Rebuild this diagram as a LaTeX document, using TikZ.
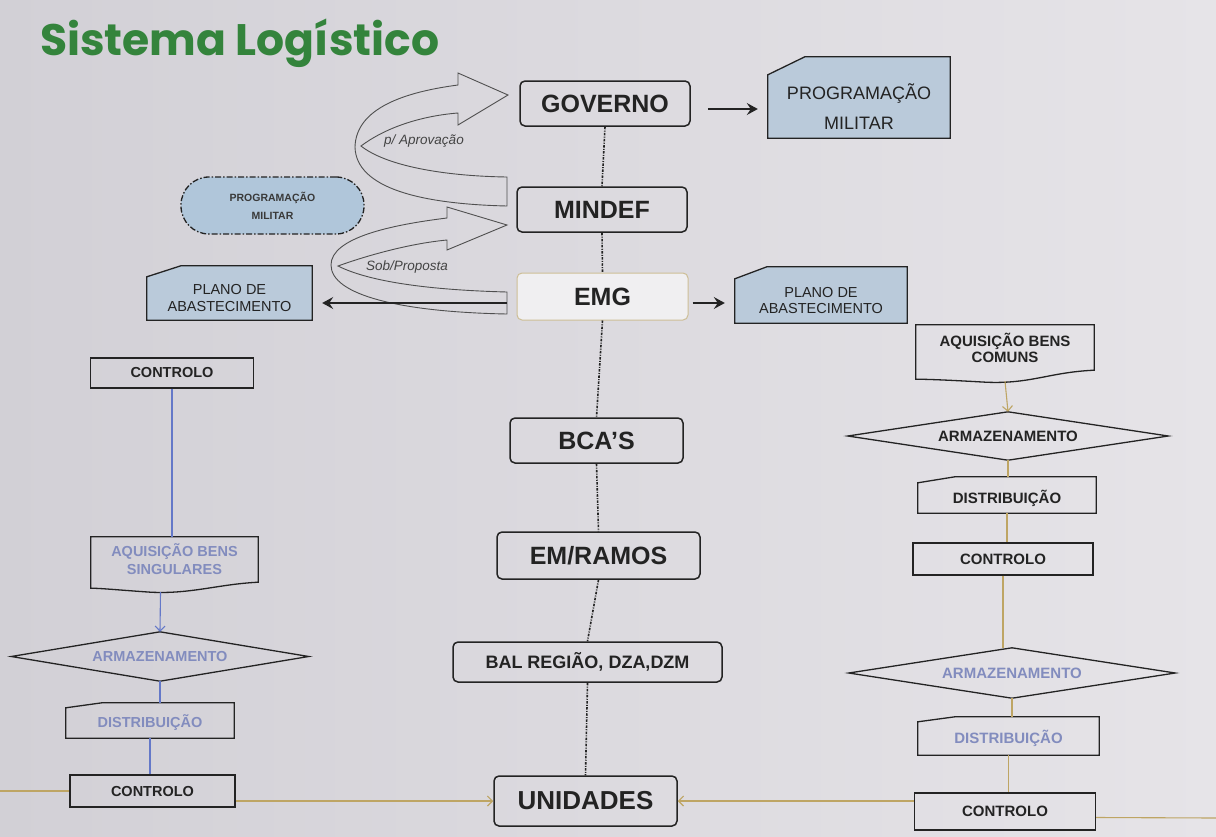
\documentclass[tikz,border=0pt]{standalone}
\usepackage{fontspec}
\setmainfont{Liberation Sans}
\newfontfamily\titlefont{Poppins}
\usepackage{graphicx}
\usetikzlibrary{arrows.meta,calc}
\pgfdeclarelayer{bg}
\pgfsetlayers{bg,main}
\newcommand\fsz[2]{\fontsize{#1}{#2}\selectfont}
\definecolor{bgL}{RGB}{210,208,214}
\definecolor{bgR}{RGB}{230,228,232}
\definecolor{ink}{RGB}{35,35,35}
\definecolor{titlegreen}{RGB}{52,132,60}
\definecolor{bluefill}{RGB}{186,202,218}
\definecolor{bluefillL}{RGB}{176,198,218}
\definecolor{tanline}{RGB}{190,165,100}
\definecolor{blueline}{RGB}{100,120,200}
\definecolor{paletext}{RGB}{130,140,190}
\definecolor{emgborder}{RGB}{205,190,150}
\tikzset{
 cbox/.style={draw=ink, line width=1.5pt, rounded corners=5pt, inner sep=0pt, text=ink, font=\bfseries\fsz{25}{28}},
 plain/.style={inner sep=0pt, text=ink, align=center},
 sq/.style={draw=ink, line width=1.3pt, inner sep=0pt, text=ink, font=\bfseries\fsz{14.5}{16}},
 shp/.style={draw=ink, line width=1.3pt},
 blk/.style={draw=ink, line width=1.3pt, -{Stealth[length=11pt,width=12pt,inset=4pt]}},
 vdot/.style={draw=ink, line width=1.6pt, dash pattern=on 2.5pt off 1.3pt on 1pt off 1.3pt},
 tanl/.style={draw=tanline, line width=1.1pt},
 tanarr/.style={tanl, -{Straight Barb[length=5pt,width=10pt]}},
 bluel/.style={draw=blueline, line width=1.1pt},
 bluearr/.style={bluel, -{Straight Barb[length=5pt,width=10pt]}},
 curvearrow/.style={draw=ink!80, line width=0.9pt},
 lbl/.style={inner sep=0pt, text=ink!85, font=\itshape\fsz{13.5}{15}},
}
\begin{document}
\begin{tikzpicture}[x=1pt,y=-1pt]
\useasboundingbox (0,0) rectangle (1216,836);
% title
\node[anchor=base west, inner sep=0pt, text=titlegreen] (title) at (40,55) {\resizebox{399pt}{!}{\titlefont\bfseries Sistema Logístico}};
% centre column
\node[cbox, minimum width=170pt, minimum height=45pt] (gov) at (605,103.5) {GOVERNO};
\node[cbox, minimum width=170pt, minimum height=45pt] (mindef) at (602,209.5) {MINDEF};
\node[cbox, draw=emgborder, line width=1pt, fill=white!40!bgR, minimum width=171pt, minimum height=47pt] (emg) at (602.5,296.5) {EMG};
\node[cbox, minimum width=173pt, minimum height=45pt] (bcas) at (596.5,440.5) {BCA’S};
\node[cbox, minimum width=203pt, minimum height=47pt] (emramos) at (598.5,555.5) {EM/RAMOS};
\node[cbox, font=\bfseries\fsz{18}{20}, minimum width=269pt, minimum height=40pt] (bal) at (587.5,662) {BAL REGIÃO, DZA,DZM};
\node[cbox, font=\bfseries\fsz{26}{28}, minimum width=183pt, minimum height=50pt] (unid) at (585.5,801) {UNIDADES};
% blue boxes
\node[plain, font=\fsz{18}{30}, minimum width=182pt, minimum height=63pt] (pmR) at (859,106.5) {PROGRAMAÇÃO\\MILITAR};
\node[plain, font=\fsz{14.5}{17}, minimum width=165pt, minimum height=43pt] (plL) at (229.5,298.5) {PLANO DE\\ABASTECIMENTO};
\node[plain, font=\fsz{14.5}{16}, minimum width=172pt, minimum height=44pt] (plR) at (821,301) {PLANO DE\\ABASTECIMENTO};
\node[plain, draw=ink, line width=1.3pt, dash pattern=on 6pt off 2pt on 1.5pt off 2pt, fill=bluefillL, rounded corners=28pt, minimum width=183pt, minimum height=57pt, text=ink!90, font=\bfseries\fsz{10.5}{18}] (pmL) at (272.5,205.5) {PROGRAMAÇÃO\\MILITAR};
% right column
\node[plain, font=\bfseries\fsz{15}{16}, minimum width=178pt, minimum height=45pt] (aqR) at (1005,347.5) {AQUISIÇÃO BENS\\COMUNS};
\node[plain, font=\bfseries\fsz{15}{16}, minimum width=320pt, minimum height=48pt] (arm1) at (1008,436) {ARMAZENAMENTO};
\node[plain, font=\bfseries\fsz{15}{16}, minimum width=178pt, minimum height=30pt] (dist1) at (1007,498) {DISTRIBUIÇÃO};
\node[sq, font=\bfseries\fsz{15}{16}, minimum width=180pt, minimum height=32pt] (ctrlR1) at (1003,559) {CONTROLO};
\node[plain, text=paletext, font=\bfseries\fsz{15}{16}, minimum width=326pt, minimum height=50pt] (arm2) at (1012,673) {ARMAZENAMENTO};
\node[plain, text=paletext, font=\bfseries\fsz{15}{16}, minimum width=181pt, minimum height=33pt] (dist2) at (1008.5,738.5) {DISTRIBUIÇÃO};
\node[sq, font=\bfseries\fsz{15}{16}, minimum width=181pt, minimum height=37pt] (ctrlR2) at (1005,811.5) {CONTROLO};
% left column
\node[sq, minimum width=163pt, minimum height=30pt] (ctrlL1) at (172,373) {CONTROLO};
\node[plain, text=paletext, font=\bfseries\fsz{14.5}{18}, minimum width=167pt, minimum height=45pt] (aqL) at (174.5,559.5) {AQUISIÇÃO BENS\\SINGULARES};
\node[plain, text=paletext, font=\bfseries\fsz{14.5}{16}, minimum width=297pt, minimum height=49pt] (armL) at (160,656.5) {ARMAZENAMENTO};
\node[plain, text=paletext, font=\bfseries\fsz{14.5}{16}, minimum width=168pt, minimum height=30pt] (distL) at (150,723) {DISTRIBUIÇÃO};
\node[sq, minimum width=165pt, minimum height=32pt] (ctrlL2) at (152.5,791) {CONTROLO};
% labels of curved arrows
\node[lbl] (aprov) at (424,141) {p/ Aprovação};
\node[lbl] (sob) at (407,267) {Sob/Proposta};

\begin{pgfonlayer}{bg}
\shade[left color=bgL, right color=bgR] (0,0) rectangle (1216,836);
\draw[shp, fill=bluefill] (pmR.south west) -- (pmR.north west) -- ($(pmR.north west)+(37,-18)$) -- ($(pmR.north east)+(0,-18)$) -- (pmR.south east) -- cycle;
\draw[shp, fill=bluefill] (plL.south west) -- (plL.north west) -- ($(plL.north west)+(34,-11)$) -- ($(plL.north east)+(0,-11)$) -- (plL.south east) -- cycle;
\draw[shp, fill=bluefill] (plR.south west) -- (plR.north west) -- ($(plR.north west)+(32,-12)$) -- ($(plR.north east)+(0,-12)$) -- (plR.south east) -- cycle;
\draw[shp] (dist1.south west) -- (dist1.north west) -- ($(dist1.north west)+(37,-6)$) -- ($(dist1.north east)+(0,-6)$) -- (dist1.south east) -- cycle;
\draw[shp] (dist2.south west) -- (dist2.north west) -- ($(dist2.north west)+(37,-5)$) -- ($(dist2.north east)+(0,-5)$) -- (dist2.south east) -- cycle;
\draw[shp] (distL.south west) -- (distL.north west) -- ($(distL.north west)+(36,-5)$) -- ($(distL.north east)+(0,-5)$) -- (distL.south east) -- cycle;
\draw[shp] (arm1.west) -- (arm1.north) -- (arm1.east) -- (arm1.south) -- cycle;
\draw[shp] (arm2.west) -- (arm2.north) -- (arm2.east) -- (arm2.south) -- cycle;
\draw[shp] (armL.west) -- (armL.north) -- (armL.east) -- (armL.south) -- cycle;
\draw[shp] ($(aqR.south west)+(0,9)$) -- (aqR.north west) -- (aqR.north east) -- (aqR.south east) .. controls ($(aqR.south east)+(-45,2)$) and ($(aqR.south west)+(115,14)$) .. ($(aqR.south west)+(70,12)$) .. controls ($(aqR.south west)+(35,10)$) and ($(aqR.south west)+(12,9)$) .. ($(aqR.south west)+(0,9)$) -- cycle;
\draw[shp] ($(aqL.south west)+(0,6)$) -- (aqL.north west) -- (aqL.north east) -- (aqL.south east) .. controls ($(aqL.south east)+(-40,2)$) and ($(aqL.south west)+(100,12)$) .. ($(aqL.south west)+(60,10)$) .. controls ($(aqL.south west)+(30,8)$) and ($(aqL.south west)+(10,6)$) .. ($(aqL.south west)+(0,6)$) -- cycle;
\end{pgfonlayer}

% curved arrows
\draw[curvearrow] (458,85) .. controls (405,92) and (356,108) .. (355,147) .. controls (356,188) and (420,204) .. (507,206) -- (507,177) .. controls (440,176) and (385,165) .. (361,146) .. controls (385,128) and (420,116) .. (458,113) -- (458,125) -- (508,95) -- (458,73) -- cycle;
\draw[curvearrow] (447,218) .. controls (390,225) and (331,238) .. (331,265) .. controls (331,295) and (400,312) .. (507,314) -- (507,292) .. controls (430,290) and (370,282) .. (338,266) .. controls (360,258) and (405,244) .. (447,240) -- (447,250) -- (507,225) -- (447,207) -- cycle;

% vertical dash-dot chain
\draw[vdot] (gov.south) -- (mindef.north);
\draw[vdot] (mindef.south) -- (emg.north);
\draw[vdot] (emg.south) -- (bcas.north);
\draw[vdot] (bcas.south) -- (emramos.north);
\draw[vdot] (emramos.south) -- (bal.north);
\draw[vdot] (bal.south) -- (unid.north);

% black arrows
\draw[blk] ($(gov.east)+(17,5.5)$) -- ($(pmR.west)+(-10,2.5)$);
\draw[blk] ($(emg.west)+(-10,6.5)$) -- ($(plL.east)+(10,4.5)$);
\draw[blk] ($(emg.east)+(4,6.5)$) -- ($(plR.west)+(-10,2)$);

% right column connectors
\draw[tanarr] ($(aqR.south)+(0,11)$) -- (arm1.north);
\draw[tanl] (arm1.south) -- ($(arm1.south |- dist1.north)+(0,-6)$);
\draw[tanl] (dist1.south) -- (dist1.south |- ctrlR1.north);
\draw[tanl] (ctrlR1.south) -- (ctrlR1.south |- arm2.north);
\draw[tanl] (arm2.south) -- ($(arm2.south |- dist2.north)+(0,-5)$);
\draw[tanl] (dist2.south) -- (dist2.south |- ctrlR2.north);

% left column connectors
\draw[bluel] (ctrlL1.south) -- (ctrlL1.south |- aqL.north);
\draw[bluearr] ($(aqL.south)+(-14,10)$) -- (armL.north);
\draw[bluel] (armL.south) -- ($(armL.south |- distL.north)+(0,-5)$);
\draw[bluel] (distL.south) -- (distL.south |- ctrlL2.north);

% bottom lines
\draw[tanl] (0,791) -- (ctrlL2.west);
\draw[tanarr] (ctrlL2.east |- unid.west) -- (unid.west);
\draw[tanarr] (ctrlR2.west |- unid.east) -- (unid.east);
\draw[tanl] ($(ctrlR2.east)+(0,6)$) -- (1216,818);
\end{tikzpicture}
\end{document}
